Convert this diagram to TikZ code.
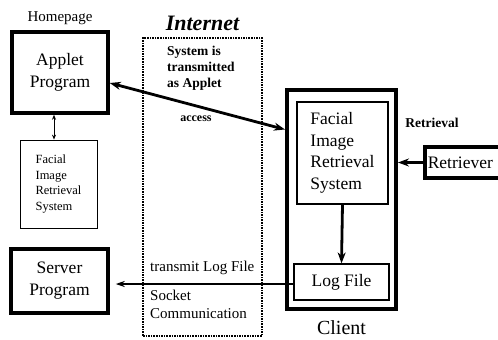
\documentclass[tikz,border=0pt]{standalone}
\usepackage{fontspec}
\setmainfont{Liberation Serif}
\newfontfamily\diagfont{Liberation Serif}
\usetikzlibrary{arrows.meta, positioning, calc}

\begin{document}
\begin{tikzpicture}[
    x = 1pt, y = -1pt, align = center,
    > = {Stealth[length = 11pt, width = 8pt]},
    program/.style = {
      rectangle, draw, line width = 3.5pt, inner sep = 0pt,
      font = \diagfont\fontsize{17.5}{22}\selectfont
    },
    module/.style = {
      rectangle, draw, line width = 1.2pt, inner sep = 0pt,
      font = \diagfont\fontsize{17.5}{21.5}\selectfont
    },
    smallmodule/.style = {
      rectangle, draw, line width = 0.8pt, inner sep = 0pt, align = left,
      font = \diagfont\fontsize{12.5}{15.5}\selectfont
    },
    net/.style = {
      rectangle, draw, line width = 1.3pt, dash pattern = on 1.6pt off 1pt,
      inner sep = 0pt
    },
    note/.style = {
      inner sep = 0pt, align = left, font = \diagfont\fontsize{15}{18}\selectfont
    },
    boldnote/.style = {
      inner sep = 0pt, align = left, font = \diagfont\bfseries\fontsize{13.5}{16}\selectfont
    },
    path/.style = {
      arrows = ->, line width = 2.8pt
    },
    thinpath/.style = {
      arrows = ->, line width = 1.3pt, > = {Stealth[length = 9pt, width = 6pt]}
    },
    ]

    \clip (0,0) rectangle (498,340);

    % draw server side
    \node  [program, minimum width = 96, minimum height = 81]  (applet)  at (60,72.5)  {Applet\\Program};
    \node  [inner sep = 0pt, font = \diagfont\fontsize{15}{17}\selectfont]  (home)  [above = 5pt of applet]  {Homepage};
    \node  [smallmodule, minimum width = 77, minimum height = 88]  (facialsrv)  at (58.5,184)  {Facial\\Image\\Retrieval\\System};
    \node  [program, minimum width = 97, minimum height = 64]  (server)  at (59.5,281)  {Server\\Program};

    % draw internet
    \node  [net, minimum width = 119, minimum height = 298]  (internet)  at (202.5,187)  {};
    \node  [inner sep = 0pt, font = \diagfont\bfseries\itshape\fontsize{22}{24}\selectfont]  (inet)  [above = 6pt of internet]  {Internet};
    \node  [boldnote, anchor = north west]  (sent)  at (167,46)  {System is\\transmitted\\as Applet};
    \node  [boldnote, font = \diagfont\bfseries\fontsize{12}{14}\selectfont]  (access)  at (196,119)  {access};
    \node  [note, anchor = west]  (logtx)  at (150,268)  {transmit Log File};
    \node  [note, anchor = north west]  (socket)  at (150,290)  {Socket\\Communication};

    % draw client side
    \node  [program, line width = 4pt, minimum width = 109, minimum height = 219]  (client)  at (341.5,199.5)  {};
    \node  [inner sep = 0pt, font = \diagfont\fontsize{20}{22}\selectfont]  (clientlabel)  [below = 9pt of client]  {Client};
    \node  [module, align = left, minimum width = 91, minimum height = 102]  (facial)  at (342.5,153)  {Facial\\Image\\Retrieval\\System};
    \node  [module, minimum width = 95, minimum height = 36]  (logfile)  at (341.5,282)  {Log File};
    \node  [program, anchor = west, minimum width = 85, minimum height = 31, text width = 79, align = left]  (retriever)  at (423,162.5)  {Retriever};
    \node  [boldnote]  (retrlabel)  at (432,123)  {Retrieval};

    % draw paths
    \draw  [path, <->]  ([yshift = -10.5pt]applet.east)  to  ([yshift = 70pt]client.west);
    \draw  [thinpath, <->, line width = 1pt, > = {Stealth[length = 5pt, width = 4pt]}]  ([xshift = -6pt]applet.south)  to  ([xshift = -6pt]applet.south |- facialsrv.north);
    \draw  [path]  (facial.south)  to  (logfile.north);
    \draw  [thinpath, shorten > = 6pt]  ([yshift = -2pt]logfile.west)  to  ([yshift = -2pt]logfile.west -| server.east);
    \draw  [path, line width = 2.5pt]  (retriever.west)  to  (retriever.west -| client.east);

\end{tikzpicture}
\end{document}
